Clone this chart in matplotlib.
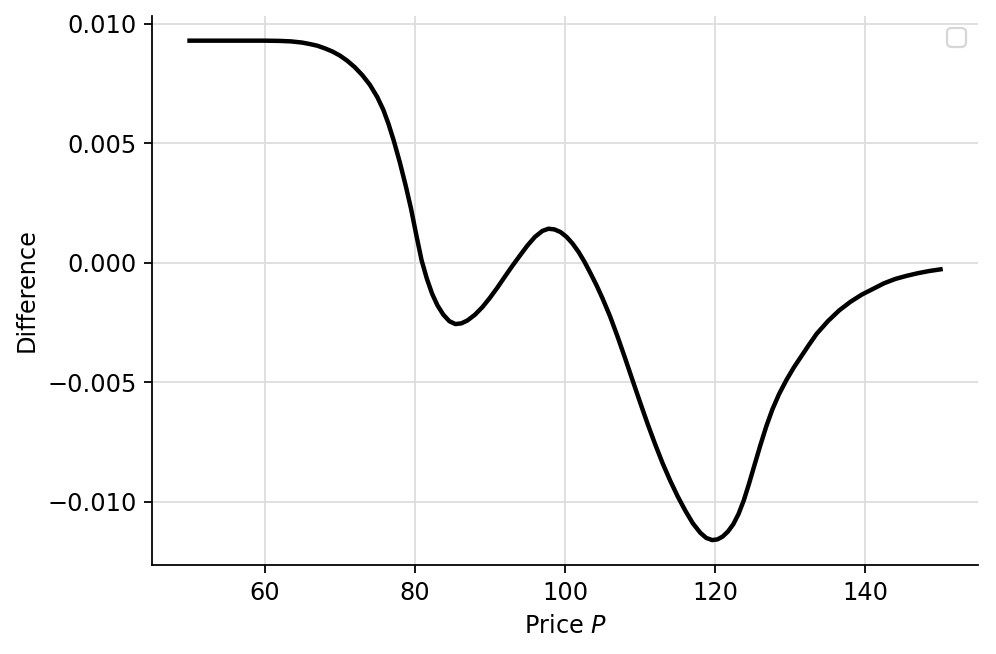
import matplotlib
matplotlib.use("Agg")
import matplotlib.pyplot as plt

plt.rcParams["font.size"] = 10.8

# price grid and value difference
price = [
    50, 57.5, 60, 62, 63.5, 65, 66, 67, 68, 69, 70, 71, 72, 73, 74, 75,
    75.8, 76.5, 77.2, 78, 78.8, 79.5, 80.2, 80.9, 81.6, 82.3, 83, 83.8,
    84.6, 85.4, 86.2, 87, 88, 89, 90, 91, 92, 93, 94, 95, 96, 97, 97.8,
    98.6, 99.4, 100.2, 101, 101.8, 102.6, 103.4, 104.2, 105, 106, 107, 108,
    109, 110, 111, 112, 113, 114, 115, 116, 117, 118, 118.8, 119.6, 120.3,
    121, 121.7, 122.4, 123.1, 123.8, 124.5, 125.2, 126, 126.8, 127.6, 128.5,
    129.5, 130.5, 131.5, 132.5, 133.5, 135, 136.5, 138, 139.5, 141, 142.5,
    144, 145.5, 147, 148.5, 150,
]
difference = [
    0.00929, 0.00929, 0.00929, 0.00928, 0.00926, 0.00921, 0.00915, 0.00908,
    0.00897, 0.00884, 0.00867, 0.00845, 0.00818, 0.00785, 0.00745, 0.00693,
    0.00640, 0.00580, 0.00510, 0.00420, 0.00320, 0.00225, 0.00115, 0.00010,
    -0.00067, -0.00130, -0.00178, -0.00218,
    -0.00245, -0.00257, -0.00254, -0.00242, -0.00218, -0.00186, -0.00147,
    -0.00104, -0.00058, -0.00013, 0.00030, 0.00072, 0.00108, 0.00133, 0.00142,
    0.00139, 0.00128, 0.00108, 0.00080, 0.00045, 0.00003, -0.00045, -0.00095,
    -0.00150, -0.00225, -0.00310, -0.00400,
    -0.00493, -0.00585, -0.00675, -0.00760, -0.00840, -0.00912, -0.00978,
    -0.01037, -0.01090, -0.01130, -0.01152, -0.01161, -0.01158,
    -0.01146, -0.01125, -0.01095, -0.01052, -0.00995, -0.00925, -0.00850,
    -0.00765, -0.00685, -0.00615, -0.00550,
    -0.00490, -0.00437, -0.00390, -0.00343, -0.00298, -0.00245, -0.00200,
    -0.00164, -0.00134, -0.00110, -0.00086,
    -0.00068, -0.00055, -0.00044, -0.00035, -0.00028,
]

fig = plt.figure(figsize=(996 / 160, 654 / 160), dpi=160)
ax = fig.add_axes([0.1526, 0.136, 0.8294, 0.84])

ax.plot(price, difference, color="black", linewidth=2)

ax.grid(True, color="#dddddd", linewidth=0.8)
ax.set_axisbelow(True)
ax.spines["top"].set_visible(False)
ax.spines["right"].set_visible(False)

ax.set_xticks([60, 80, 100, 120, 140])
ax.set_yticks([-0.010, -0.005, 0.0, 0.005, 0.010])
ax.set_xlabel("Price $P$")
ax.set_ylabel("Difference")
ax.legend(loc="upper right")

fig.savefig("out.png", dpi=160)
